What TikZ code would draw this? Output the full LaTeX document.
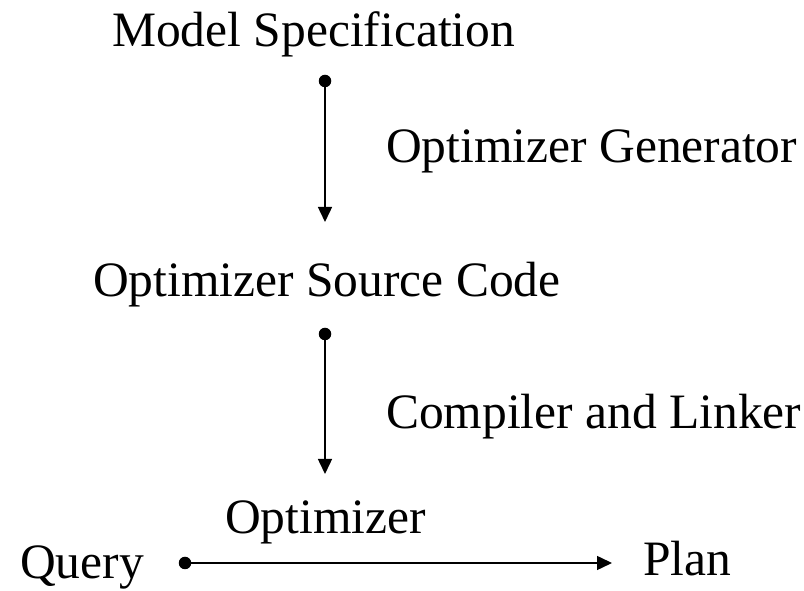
\documentclass[tikz,border=0pt]{standalone}
\usepackage{fontspec}
\setmainfont{Liberation Serif}
\usepackage{tikz}
\usetikzlibrary{arrows.meta}
\usetikzlibrary{positioning}

\begin{document}
\begin{tikzpicture}
    [
    x=1pt,y=1pt,
    label/.style={anchor=base west,inner sep=0pt,font=\fontsize{49.5}{59}\selectfont},
    point/.style={circle,fill,inner sep=0pt,minimum size=12.5pt},
    flow/.style={line width=1.5pt,-{Triangle[length=15pt,width=14pt]}},
    ]
    \useasboundingbox (0,0) rectangle (804,591);

    \node (spec) at (112,544) [label] {Model Specification};
    \node (gen)  at (386,428) [label] {Optimizer Generator};
    \node (src)  at (93,294)  [label] {Optimizer Source Code};
    \node (comp) at (386,162) [label] {Compiler and Linker};
    \node (opt)  at (225,57)  [label] {Optimizer};
    \node (query) at (20,12)  [label] {Query};
    \node (plan) at (643,15)  [label] {Plan};

    \node (d1) at (325,510) [point] {};
    \node (d2) at (325,257) [point] {};
    \node (d3) at (185,28)  [point] {};
    \coordinate (t1) at (325,369);
    \coordinate (t2) at (325,117);
    \coordinate (t3) at (612,28);

    \draw [flow] (d1.center) to (t1);
    \draw [flow] (d2.center) to (t2);
    \draw [flow] (d3.center) to (t3);
  \end{tikzpicture}
\end{document}
